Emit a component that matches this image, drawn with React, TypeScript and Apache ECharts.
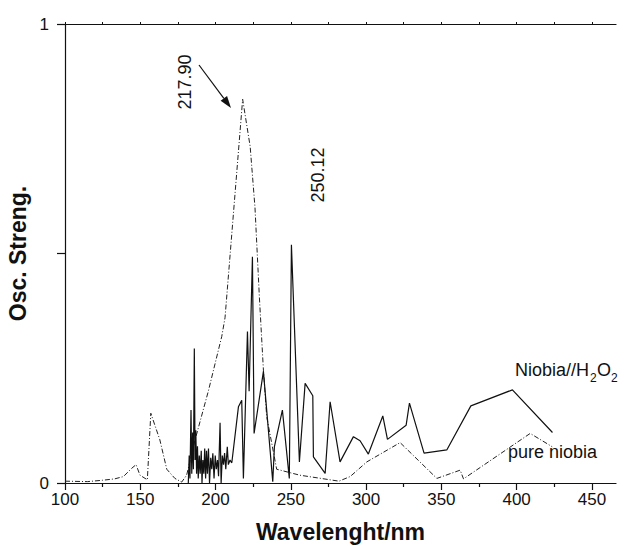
import React, { useEffect, useRef } from "react";
import * as echarts from "echarts";

// pure niobia (dash-dot)
const pureX = [100, 115, 125, 133, 138.8, 144.3, 147.2, 149.8, 154.7, 157, 163, 167.6, 173, 177.5, 180.8, 186.4, 195.2, 204.1, 206.3, 218, 223, 226.2, 229.1, 231.8, 234, 237.3, 240.6, 256, 282, 289.4, 300.5, 322.6, 347, 362.5, 364.7, 409, 423.6];
const pureY = [0.004, 0.003, 0.006, 0.009, 0.014, 0.032, 0.04, 0.017, 0.007, 0.152, 0.094, 0.03, 0.01, 0.002, 0.017, 0.094, 0.2, 0.319, 0.36, 0.836, 0.733, 0.6, 0.406, 0.246, 0.144, 0.087, 0.03, 0.017, 0.004, 0.014, 0.046, 0.088, 0.01, 0.028, 0.009, 0.108, 0.079];

// Niobia//H2O2 (solid)
const h2o2X = [181.9, 182.5, 183.0, 183.7, 184.2, 184.8, 185.3, 185.9, 186.4, 186.9, 187.4, 188.0, 188.5, 189.2, 189.8, 190.5, 191.0, 191.6, 192.2, 192.8, 193.4, 194.0, 194.6, 195.3, 196.0, 196.8, 197.5, 198.2, 199.0, 199.8, 200.5, 201.3, 202.0, 203.0, 203.7, 204.5, 205.3, 206.0, 206.8, 207.8, 208.5, 209.6, 210.8, 215.2, 217.4, 218.5, 221.2, 222.3, 224.5, 225.6, 231.8, 238, 239.1, 244.4, 249, 250.4, 255.7, 259.5, 264.6, 265, 272.8, 276.1, 282.7, 291.6, 296, 301.5, 311.1, 314.2, 326.6, 328.8, 338.5, 353.6, 369.6, 397.2, 423.8];
const h2o2Y = [0.0, 0.06, 0.01, 0.159, 0.02, 0.11, 0.03, 0.293, 0.05, 0.115, 0.02, 0.08, 0.01, 0.06, 0.02, 0.07, 0.0, 0.05, 0.02, 0.075, 0.01, 0.07, 0.02, 0.075, 0.0, 0.055, 0.03, 0.065, 0.01, 0.06, 0.03, 0.05, 0.015, 0.131, 0.0, 0.06, 0.04, 0.065, 0.03, 0.079, 0.04, 0.05, 0.044, 0.166, 0.18, 0.01, 0.33, 0.2, 0.493, 0.108, 0.243, 0.003, 0.079, 0.159, 0.01, 0.519, 0.046, 0.217, 0.19, 0.057, 0.021, 0.177, 0.046, 0.101, 0.092, 0.063, 0.146, 0.095, 0.126, 0.174, 0.065, 0.072, 0.168, 0.203, 0.11];

const xMajorTicks = [100, 150, 200, 250, 300, 350, 400, 450];
const xMinorTicks = [125, 175, 225, 275, 325, 375, 425];
const xTopTicks = [100, 125, 150, 175, 200, 225, 250, 275, 300, 325, 350, 375, 400, 425, 450];

const X_MIN = 100;
const X_MAX = 466;
const FONT = '"Liberation Sans", Arial, Helvetica, sans-serif';
const INK = "#111";

export default function App() {
  const ref = useRef<HTMLDivElement>(null);
  useEffect(() => {
    if (!ref.current) return;
    const chart = echarts.init(ref.current, null, { renderer: "svg" });
    const grid = { left: 65, right: 11, top: 24, bottom: 63, outerBoundsMode: "none", containLabel: false };
    const tip = [231, 108];
    const tail = [199, 65];
    const dx = tip[0] - tail[0], dy = tip[1] - tail[1];
    const len = Math.sqrt(dx * dx + dy * dy);
    const ux = dx / len, uy = dy / len;
    const hl = 12, hw = 4;
    const bx = tip[0] - ux * hl, by = tip[1] - uy * hl;
    const px = -uy * hw, py = ux * hw;
    chart.setOption({
      animation: false,
      backgroundColor: "#fff",
      grid: [grid, { ...grid }],
      xAxis: [
        {
          gridIndex: 0,
          type: "value",
          position: "bottom",
          min: X_MIN,
          max: X_MAX,
          interval: 50,
          name: "Wavelenght/nm",
          nameLocation: "middle",
          nameGap: 37,
          nameMoveOverlap: false,
          nameTextStyle: { fontFamily: FONT, fontSize: 23, fontWeight: "bold", color: INK },
          axisLine: { show: true, onZero: false, lineStyle: { color: INK, width: 1.2 } },
          axisTick: { show: true, inside: false, length: 7, customValues: xMajorTicks, lineStyle: { color: INK, width: 1.2 } },
          axisLabel: { show: true, margin: 8, customValues: xMajorTicks, fontFamily: FONT, fontSize: 17, color: INK },
          splitLine: { show: false },
        },
        {
          gridIndex: 0,
          type: "value",
          position: "top",
          min: X_MIN,
          max: X_MAX,
          axisLine: { show: true, onZero: false, lineStyle: { color: INK, width: 1.2 } },
          axisTick: { show: true, inside: false, length: 2, customValues: xTopTicks, lineStyle: { color: INK, width: 1 } },
          axisLabel: { show: false },
          splitLine: { show: false },
        },
        {
          gridIndex: 1,
          type: "value",
          position: "bottom",
          min: X_MIN,
          max: X_MAX,
          axisLine: { show: false },
          axisTick: { show: true, inside: false, length: 4, customValues: xMinorTicks, lineStyle: { color: INK, width: 1.2 } },
          axisLabel: { show: false },
          splitLine: { show: false },
        },
      ],
      yAxis: [
        {
          gridIndex: 0,
          type: "value",
          min: 0,
          max: 1,
          interval: 0.5,
          name: "Osc. Streng.",
          nameLocation: "middle",
          nameGap: 36,
          nameMoveOverlap: false,
          nameTextStyle: { fontFamily: FONT, fontSize: 23, fontWeight: "bold", color: INK },
          axisLine: { show: true, onZero: false, lineStyle: { color: INK, width: 1.2 } },
          axisTick: { show: true, inside: false, length: 8, lineStyle: { color: INK, width: 1.2 } },
          axisLabel: {
            margin: 16,
            fontFamily: FONT,
            fontSize: 17,
            color: INK,
            formatter: (v: number) => (v === 0 || v === 1 ? String(v) : ""),
          },
          splitLine: { show: false },
        },
        {
          gridIndex: 1,
          type: "value",
          min: 0,
          max: 1,
          show: false,
        },
      ],
      series: [
        {
          name: "pure niobia",
          type: "line",
          xAxisIndex: 0,
          yAxisIndex: 0,
          data: pureX.map((x, i) => [x, pureY[i]]),
          showSymbol: false,
          symbol: "none",
          lineStyle: { color: "#222", width: 1, type: [5, 2, 1, 2] },
          z: 2,
        },
        {
          name: "Niobia//H2O2",
          type: "line",
          xAxisIndex: 0,
          yAxisIndex: 0,
          data: h2o2X.map((x, i) => [x, h2o2Y[i]]),
          showSymbol: false,
          symbol: "none",
          lineStyle: { color: "#111", width: 1.2 },
          z: 3,
        },
      ],
      graphic: [
        {
          type: "text",
          x: 185,
          y: 82,
          rotation: Math.PI / 2,
          style: { text: "217.90", fontFamily: FONT, fontSize: 18, fill: INK, align: "center", verticalAlign: "middle" },
        },
        {
          type: "text",
          x: 318,
          y: 175,
          rotation: Math.PI / 2,
          style: { text: "250.12", fontFamily: FONT, fontSize: 18, fill: INK, align: "center", verticalAlign: "middle" },
        },
        {
          type: "line",
          shape: { x1: tail[0], y1: tail[1], x2: bx, y2: by },
          style: { stroke: INK, lineWidth: 1.2 },
        },
        {
          type: "polygon",
          shape: { points: [[tip[0], tip[1]], [bx + px, by + py], [bx - px, by - py]] },
          style: { fill: INK },
        },
        {
          type: "text",
          x: 515,
          y: 370,
          style: { text: "Niobia//H", fontFamily: FONT, fontSize: 18, fill: INK, align: "left", verticalAlign: "middle" },
        },
        {
          type: "text",
          x: 590,
          y: 378,
          style: { text: "2", fontFamily: FONT, fontSize: 12, fill: INK, align: "left", verticalAlign: "middle" },
        },
        {
          type: "text",
          x: 597,
          y: 370,
          style: { text: "O", fontFamily: FONT, fontSize: 18, fill: INK, align: "left", verticalAlign: "middle" },
        },
        {
          type: "text",
          x: 611,
          y: 378,
          style: { text: "2", fontFamily: FONT, fontSize: 12, fill: INK, align: "left", verticalAlign: "middle" },
        },
        {
          type: "text",
          x: 508,
          y: 452,
          style: { text: "pure niobia", fontFamily: FONT, fontSize: 18, fill: INK, align: "left", verticalAlign: "middle" },
        },
      ],
    });
    return () => chart.dispose();
  }, []);
  return (
    <div
      ref={ref}
      style={{ position: "fixed", left: 0, top: 0, width: 627, height: 546, background: "#fff" }}
    />
  );
}
